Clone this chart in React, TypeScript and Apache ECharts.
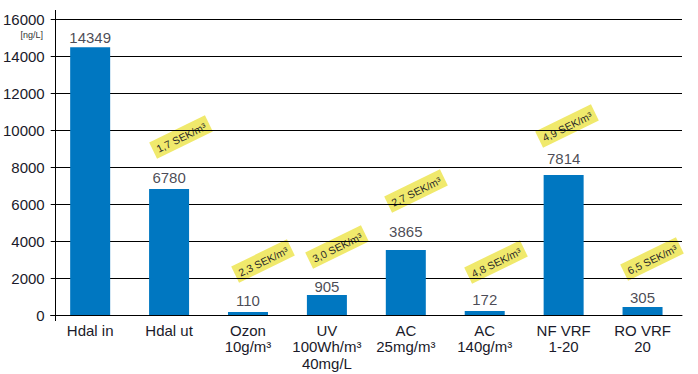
import React, { useEffect, useRef } from "react";
import * as echarts from "echarts";

const categories = [
  "Hdal in",
  "Hdal ut",
  "Ozon\n10g/m³",
  "UV\n100Wh/m³\n40mg/L",
  "AC\n25mg/m³",
  "AC\n140g/m³",
  "NF VRF\n1-20",
  "RO VRF\n20",
];
// bar heights as drawn in the picture
const barHeights = [14470, 6810, 160, 1080, 3520, 220, 7570, 430];
// value labels printed above the bars
const labelValues = [14349, 6780, 110, 905, 3865, 172, 7814, 305];
const costNotes = [
  "1,7 SEK/m³",
  "2,3 SEK/m³",
  "3,0 SEK/m³",
  "2,7 SEK/m³",
  "4,8 SEK/m³",
  "4,9 SEK/m³",
  "6,5 SEK/m³",
];
const yTicks = { min: 0, max: 16000, interval: 2000 };
const unitLabel = "[ng/L]";

const noteCenters = [
  [181, 137],
  [263, 261],
  [337, 247],
  [416, 191],
  [496, 262],
  [567, 126],
  [652, 259],
];

const FONT = "'Liberation Sans', Arial, sans-serif";

export default function App() {
  const ref = useRef<HTMLDivElement>(null);
  useEffect(() => {
    if (!ref.current) return;
    document.body.style.margin = "0";
    const chart = echarts.init(ref.current, undefined, { renderer: "svg" });
    const notes = costNotes.map((t, i) => ({
      type: "group",
      x: noteCenters[i][0],
      y: noteCenters[i][1],
      rotation: (26 * Math.PI) / 180,
      z: 100,
      children: [
        {
          type: "rect",
          shape: { x: -31, y: -9, width: 62, height: 18 },
          style: { fill: "#F0E96C" },
        },
        {
          type: "text",
          style: {
            text: t,
            x: 0,
            y: 0.5,
            align: "center",
            verticalAlign: "middle",
            fontSize: 10.5,
            fontFamily: FONT,
            fill: "#2a2a2a",
          },
        },
      ],
    }));
    chart.setOption({
      animation: false,
      grid: { left: 50, right: 16, top: 19, bottom: 59, containLabel: false },
      xAxis: {
        type: "category",
        data: categories,
        axisLine: { lineStyle: { color: "#000", width: 1 } },
        axisTick: { show: false },
        axisLabel: {
          fontSize: 15,
          lineHeight: 16.5,
          color: "#1a1a2a",
          fontFamily: FONT,
          margin: 7,
          interval: 0,
        },
      },
      yAxis: {
        type: "value",
        min: yTicks.min,
        max: yTicks.max,
        interval: yTicks.interval,
        offset: -5,
        axisLine: { show: true, lineStyle: { color: "#000", width: 1 } },
        axisTick: { show: false },
        splitLine: { show: true, lineStyle: { color: "#000", width: 1 } },
        axisLabel: {
          fontSize: 15,
          color: "#1a1a2a",
          fontFamily: FONT,
          margin: 11,
          formatter: (v: number) => String(v),
        },
      },
      series: [
        {
          type: "bar",
          data: barHeights,
          barWidth: 40,
          itemStyle: { color: "#0077C1" },
          z: 2,
        },
        {
          type: "scatter",
          data: labelValues,
          symbolSize: 1,
          itemStyle: { color: "rgba(0,0,0,0)" },
          emphasis: { disabled: true },
          z: 3,
          label: {
            show: true,
            position: "top",
            distance: 4,
            fontSize: 15,
            color: "#1a1a2a",
            fontFamily: FONT,
          },
        },
      ],
      graphic: [
        {
          type: "line",
          shape: { x1: 55.5, y1: 10, x2: 55.5, y2: 20 },
          style: { stroke: "#000", lineWidth: 1 },
        },
        {
          type: "line",
          shape: { x1: 55.5, y1: 315, x2: 55.5, y2: 321 },
          style: { stroke: "#000", lineWidth: 1 },
        },
        {
          type: "text",
          x: 43,
          y: 35,
          style: {
            text: unitLabel,
            align: "right",
            verticalAlign: "middle",
            fontSize: 9,
            fontFamily: FONT,
            fill: "#333",
          },
        },
        ...notes,
      ],
    });
    return () => chart.dispose();
  }, []);
  return <div ref={ref} style={{ width: 698, height: 374 }} />;
}
